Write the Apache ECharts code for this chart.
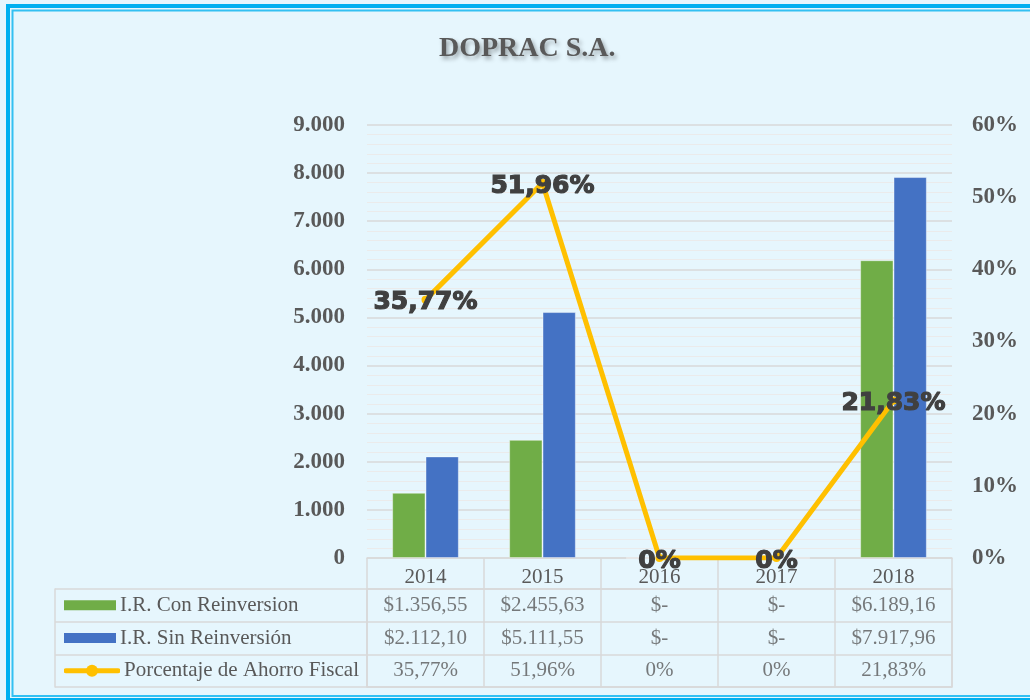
<!DOCTYPE html>
<html>
<head>
<meta charset="utf-8">
<script src="https://cdn.jsdelivr.net/npm/echarts@6/dist/echarts.min.js"></script>
<style>
  body { margin: 0; background: #e6f6fd; }
  #chart { width: 1030px; height: 700px; }
</style>
</head>
<body>
<div id="chart"></div>
<script>
// datos
var years = ["2014", "2015", "2016", "2017", "2018"];
var conReinversion = [1356.55, 2455.63, 0, 0, 6189.16];
var sinReinversion = [2112.10, 5111.55, 0, 0, 7917.96];
var ahorroFiscal = [35.77, 51.96, 0, 0, 21.83];
var seriesNames = ["I.R. Con Reinversion", "I.R. Sin Reinversión", "Porcentaje de Ahorro Fiscal"];

var serif = "Liberation Serif";
var grey = "#595959";
var lineGrey = "#d9d9d9";

// 1.356,55 -> formato con punto y coma
function money(v) {
  if (!v) return "$-";
  var parts = v.toFixed(2).split(".");
  return "$" + parts[0].replace(/\B(?=(\d{3})+(?!\d))/g, ".") + "," + parts[1];
}
function pct(v) {
  if (!v) return "0%";
  return v.toFixed(2).replace(".", ",") + "%";
}

var lineIcon = "data:image/svg+xml;utf8," + encodeURIComponent(
  '<svg xmlns="http://www.w3.org/2000/svg" width="56" height="14">' +
  '<line x1="2" y1="7" x2="54" y2="7" stroke="#ffc000" stroke-width="5" stroke-linecap="round"/>' +
  '<circle cx="28" cy="7" r="6" fill="#ffc000"/></svg>');

// celdas de la tabla
var tableData = [];
years.forEach(function (y, i) {
  tableData.push({ value: [i, 0], name: money(conReinversion[i]) });
  tableData.push({ value: [i, 1], name: money(sinReinversion[i]) });
  tableData.push({ value: [i, 2], name: pct(ahorroFiscal[i]) });
});

var myChart = echarts.init(document.getElementById("chart"));
var option = {
  backgroundColor: "#e6f6fd",
  title: {
    text: "DOPRAC S.A.",
    left: 434,
    top: 30,
    textStyle: {
      fontFamily: serif,
      fontWeight: "bold",
      fontSize: 28,
      color: grey,
      textShadowColor: "rgba(0,0,0,0.35)",
      textShadowBlur: 4,
      textShadowOffsetX: 2,
      textShadowOffsetY: 3
    }
  },
  graphic: [
    { type: "rect", shape: { x: 8, y: 6, width: 1040, height: 694 }, style: { fill: "none", stroke: "#00b0f0", lineWidth: 4 }, silent: true },
    { type: "rect", shape: { x: 12.5, y: 10.5, width: 1030, height: 685.5 }, style: { fill: "none", stroke: "#33c0f2", lineWidth: 2 }, silent: true }
  ],
  grid: [
    { left: 367, width: 585, top: 125, height: 433 },
    { left: 367, width: 585, top: 589, height: 98, show: true, borderColor: lineGrey, borderWidth: 1.5, backgroundColor: "transparent" }
  ],
  xAxis: [
    {
      type: "category",
      gridIndex: 0,
      data: years,
      boundaryGap: true,
      axisLine: { lineStyle: { color: lineGrey, width: 1.5 } },
      axisTick: { show: true, length: 31, interval: 0, lineStyle: { color: lineGrey, width: 1.5 } },
      axisLabel: { fontFamily: serif, fontSize: 21, color: grey, margin: 9 }
    },
    {
      type: "category",
      gridIndex: 1,
      data: years,
      boundaryGap: true,
      axisLine: { show: false },
      axisTick: { show: false },
      axisLabel: { show: false },
      splitLine: { show: true, interval: 0, lineStyle: { color: lineGrey, width: 1.5 } }
    }
  ],
  yAxis: [
    {
      type: "value",
      gridIndex: 0,
      min: 0,
      max: 9000,
      interval: 1000,
      axisLabel: {
        fontFamily: serif, fontWeight: "bold", fontSize: 23, color: grey, margin: 22,
        formatter: function (v) { return String(v).replace(/\B(?=(\d{3})+(?!\d))/g, "."); }
      },
      splitLine: { lineStyle: { color: lineGrey, width: 1.5 } },
      minorTick: { show: false, splitNumber: 5 },
      minorSplitLine: { show: true, lineStyle: { color: "#ebebeb", width: 1 } }
    },
    {
      type: "value",
      gridIndex: 0,
      position: "right",
      min: 0,
      max: 60,
      interval: 10,
      axisLabel: { fontFamily: serif, fontWeight: "bold", fontSize: 23, color: grey, margin: 20, formatter: "{value}%" },
      splitLine: { show: false }
    },
    {
      type: "category",
      gridIndex: 1,
      data: seriesNames,
      inverse: true,
      boundaryGap: true,
      axisLine: { show: false },
      axisTick: { show: true, length: 312, interval: 0, lineStyle: { color: lineGrey, width: 1.5 } },
      splitLine: { show: true, interval: 0, lineStyle: { color: lineGrey, width: 1.5 } },
      axisLabel: {
        align: "left",
        margin: 303,
        interval: 0,
        formatter: function (v, i) {
          var icon = ["g", "b", "l"][i];
          return "{" + icon + "|}{t|" + v + "}";
        },
        rich: {
          g: { width: 52, height: 10, backgroundColor: "#70ad47" },
          b: { width: 52, height: 10, backgroundColor: "#4472c4" },
          l: { width: 56, height: 14, backgroundColor: { image: lineIcon } },
          t: { fontFamily: serif, fontSize: 21, color: grey, padding: [0, 0, 0, 4] }
        }
      }
    },
    {
      type: "category",
      gridIndex: 1,
      data: seriesNames,
      position: "left",
      offset: 312,
      axisLine: { show: true, lineStyle: { color: lineGrey, width: 1.5 } },
      axisTick: { show: false },
      axisLabel: { show: false },
      splitLine: { show: false }
    }
  ],
  series: [
    {
      name: seriesNames[0],
      type: "bar",
      xAxisIndex: 0,
      yAxisIndex: 0,
      data: conReinversion,
      barGap: "0%",
      barCategoryGap: "43%",
      itemStyle: { color: "#70ad47", borderColor: "rgba(255,255,255,0.4)", borderWidth: 1 }
    },
    {
      name: seriesNames[1],
      type: "bar",
      xAxisIndex: 0,
      yAxisIndex: 0,
      data: sinReinversion,
      barGap: "0%",
      barCategoryGap: "43%",
      itemStyle: { color: "#4472c4", borderColor: "rgba(255,255,255,0.4)", borderWidth: 1 }
    },
    {
      name: seriesNames[2],
      type: "line",
      xAxisIndex: 0,
      yAxisIndex: 1,
      data: ahorroFiscal,
      symbol: "circle",
      symbolSize: 8,
      itemStyle: { color: "#ffc000" },
      lineStyle: { color: "#ffc000", width: 5, join: "round" },
      label: {
        show: true,
        position: "inside",
        offset: [0, 3],
        fontFamily: "DejaVu Sans",
        fontWeight: "bold",
        fontSize: 25,
        color: "#404040",
        textBorderColor: "#404040",
        textBorderWidth: 1.2,
        formatter: function (p) { return pct(p.value); }
      },
      z: 5
    },
    {
      type: "scatter",
      xAxisIndex: 1,
      yAxisIndex: 2,
      data: tableData,
      symbolSize: 0,
      silent: true,
      label: {
        show: true,
        position: "inside",
        formatter: "{b}",
        fontFamily: serif,
        fontSize: 21,
        color: grey
      }
    }
  ]
};
myChart.setOption(option);
</script>
</body>
</html>
